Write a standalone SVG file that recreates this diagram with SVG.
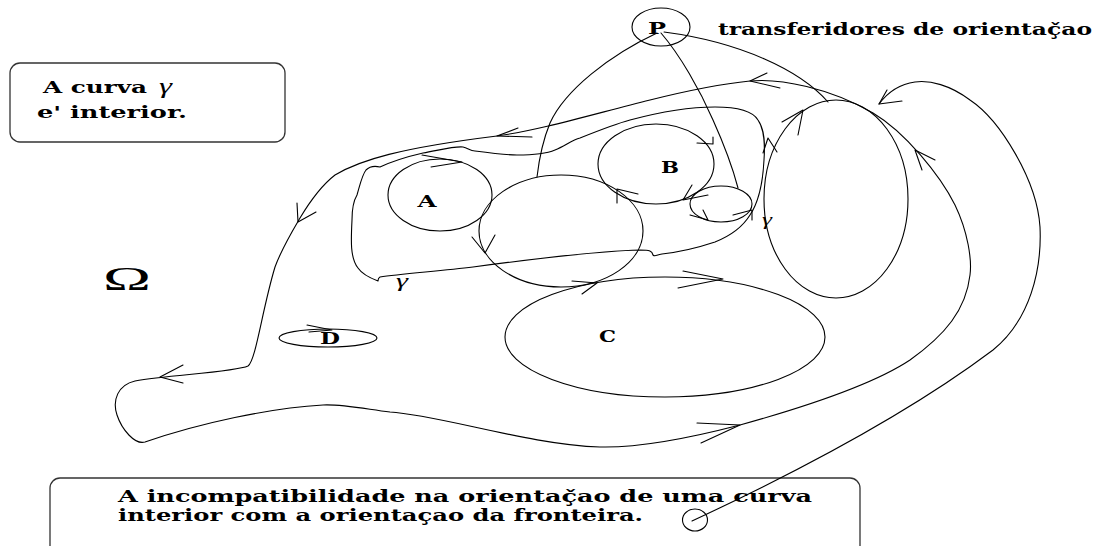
<svg xmlns="http://www.w3.org/2000/svg" width="1095" height="546" viewBox="0 0 1095 546">
<style>
.ln{fill:none;stroke:#000;stroke-width:1.1;stroke-linejoin:round;stroke-linecap:round}
.sh{fill:none;stroke:#000;stroke-width:1.1}
.box{fill:none;stroke:#333;stroke-width:1.3}
.t{font-family:"DejaVu Serif","Liberation Serif",serif;font-weight:bold;fill:#000}
.g{font-family:"Liberation Serif","DejaVu Serif",serif;font-style:italic;font-weight:normal;fill:#000}
.o{font-family:"Liberation Serif","DejaVu Serif",serif;font-weight:normal;fill:#000}
</style>
<rect width="1095" height="546" fill="#fff"/>

<g id="box-curva">
<rect class="box" x="10" y="63" width="275" height="79" rx="10"/>
<text class="t" x="43" y="93" font-size="16.5" textLength="104" lengthAdjust="spacingAndGlyphs">A curva</text>
<text class="g" x="159" y="93" font-size="22" textLength="13" lengthAdjust="spacingAndGlyphs">γ</text>
<text class="t" x="37" y="118" font-size="16.5" textLength="150" lengthAdjust="spacingAndGlyphs">e' interior.</text>
</g>

<g id="node-P">
<ellipse class="sh" cx="661" cy="27" rx="29" ry="19"/>
<text class="t" x="648" y="34" font-size="17.5" textLength="18" lengthAdjust="spacingAndGlyphs">P</text>
</g>
<g id="label-transferidores">
<text class="t" x="718" y="35" font-size="16.5" textLength="374" lengthAdjust="spacingAndGlyphs">transferidores de orientaç̌ao</text>
</g>

<g id="node-A">
<ellipse class="sh" cx="440" cy="195" rx="52" ry="36"/>
<text class="t" x="417.5" y="207" font-size="17.5" textLength="19" lengthAdjust="spacingAndGlyphs">A</text>
</g>
<g id="node-big">
<ellipse class="sh" cx="561" cy="231" rx="82" ry="56"/>
</g>
<g id="node-B">
<ellipse class="sh" cx="656" cy="164" rx="58" ry="40"/>
<text class="t" x="661" y="173" font-size="17.5" textLength="18" lengthAdjust="spacingAndGlyphs">B</text>
</g>
<g id="node-small">
<ellipse class="sh" cx="721" cy="204" rx="31" ry="18"/>
</g>
<g id="node-right">
<ellipse class="sh" cx="836" cy="199" rx="72" ry="99"/>
</g>
<g id="node-C">
<ellipse class="sh" cx="665" cy="337" rx="160" ry="60"/>
<text class="t" x="599" y="342" font-size="17.5" textLength="17" lengthAdjust="spacingAndGlyphs">C</text>
</g>
<g id="node-D">
<ellipse class="sh" cx="328" cy="338" rx="49" ry="9"/>
<text class="t" x="320" y="344" font-size="17.5" textLength="20" lengthAdjust="spacingAndGlyphs">D</text>
</g>
<g id="label-omega">
<text class="o" x="103" y="290" font-size="34" textLength="48" lengthAdjust="spacingAndGlyphs">Ω</text>
</g>
<g id="label-gamma1"><text class="g" x="396" y="287" font-size="19" textLength="12" lengthAdjust="spacingAndGlyphs">γ</text></g>
<g id="label-gamma2"><text class="g" x="762" y="225" font-size="16" textLength="10" lengthAdjust="spacingAndGlyphs">γ</text></g>

<g id="box-incompat">
<rect class="box" x="50" y="478" width="810" height="90" rx="10"/>
<text class="t" x="118" y="502" font-size="16.5" textLength="694" lengthAdjust="spacingAndGlyphs">A incompatibilidade na orientaç̌ao de uma curva</text>
<text class="t" x="118" y="521" font-size="16.5" textLength="525" lengthAdjust="spacingAndGlyphs">interior com a orientaçao da fronteira.</text>
</g>
<g id="node-end">
<ellipse class="sh" cx="695" cy="520" rx="12.5" ry="11"/>
</g>

<g id="connectors">
<path class="ln" d="M 750 81 C 780 78, 830 88, 873 113 C 905 132, 940 175, 955 205 C 968 232, 972 260, 970 275 C 966 310, 945 335, 910 360 C 880 380, 830 400, 740 425 C 690 438, 640 448, 600 447 C 530 445, 440 415, 390 412 C 360 408, 340 404, 323 405 C 270 408, 200 423, 145 442 C 135 445, 122 430, 117 415 C 112 400, 118 385, 135 381 C 170 375, 235 372, 248 366 C 256 360, 262 310, 275 267 C 282 248, 290 235, 300 218 C 312 198, 322 185, 335 175 C 360 160, 400 148, 497 136 C 540 130, 590 115, 650 100 C 690 90, 720 84, 750 81 Z"/>
<path class="ln" d="M 380 167 C 395 160, 410 156, 423 153 C 440 150, 455 146, 463 147 C 468 148, 470 151, 475 151 C 490 153, 505 155, 517 155 C 535 155, 548 153, 555 150 C 565 146, 572 140, 580 138 C 600 130, 615 124, 630 120 C 660 112, 690 107, 715 107 C 735 107, 752 110, 758 120 C 765 130, 765 145, 764 160 C 763 180, 760 200, 750 215 C 742 228, 730 236, 715 242 C 700 247, 680 252, 662 254 C 656 255, 655 257, 653 255 C 652 251, 650 250, 640 250 C 600 251, 540 258, 473 267 C 440 271, 400 274, 380 277 C 378 278, 378 280, 378 281 C 370 278, 362 274, 358 268 C 350 258, 351 240, 352 220 C 352 210, 354 200, 357 195 C 360 185, 362 175, 366 170 C 370 166, 376 166, 380 167 Z"/>
<path class="ln" d="M 657 33 C 610 55, 565 90, 550 123 C 543 140, 539 160, 537 177"/>
<path class="ln" d="M 661 33 C 680 55, 700 90, 713 120 C 722 140, 732 165, 738 188"/>
<path class="ln" d="M 664 32 C 740 42, 800 70, 828 102"/>
<path class="ln" d="M 692 521 C 780 480, 900 420, 993 350 C 1030 320, 1042 270, 1040 227 C 1037 180, 1000 120, 970 100 C 950 85, 930 80, 915 82 C 900 84, 888 92, 879 104"/>
<polyline class="ln" points="767,73 750,81 780,88"/>
<polyline class="ln" points="518,128 497,136 532,137"/>
<polyline class="ln" points="297,203 298,222 316,212"/>
<polyline class="ln" points="183,365 160,377 183,383"/>
<polyline class="ln" points="697,423 740,425 701,443"/>
<polyline class="ln" points="935,160 915,150 922,170"/>
<polyline class="ln" points="887,90 879,104 902,101"/>
<polyline class="ln" points="782,122 803,110 798,135"/>
<polyline class="ln" points="763,153 768,138 777,152"/>
<polyline class="ln" points="422,155 462,162 431,167"/>
<polyline class="ln" points="472,237 485,253 495,235"/>
<polyline class="ln" points="638,194 617,189 617,203"/>
<polyline class="ln" points="697,143 713,144 713,137"/>
<polyline class="ln" points="692,185 683,200 708,195"/>
<polyline class="ln" points="690,215 708,220 703,210"/>
<polyline class="ln" points="733,215 752,210 752,220"/>
<polyline class="ln" points="572,281 597,283 582,294"/>
<polyline class="ln" points="683,271 723,279 678,288"/>
<polyline class="ln" points="307,325 332,330 309,332"/>
</g>
</svg>
